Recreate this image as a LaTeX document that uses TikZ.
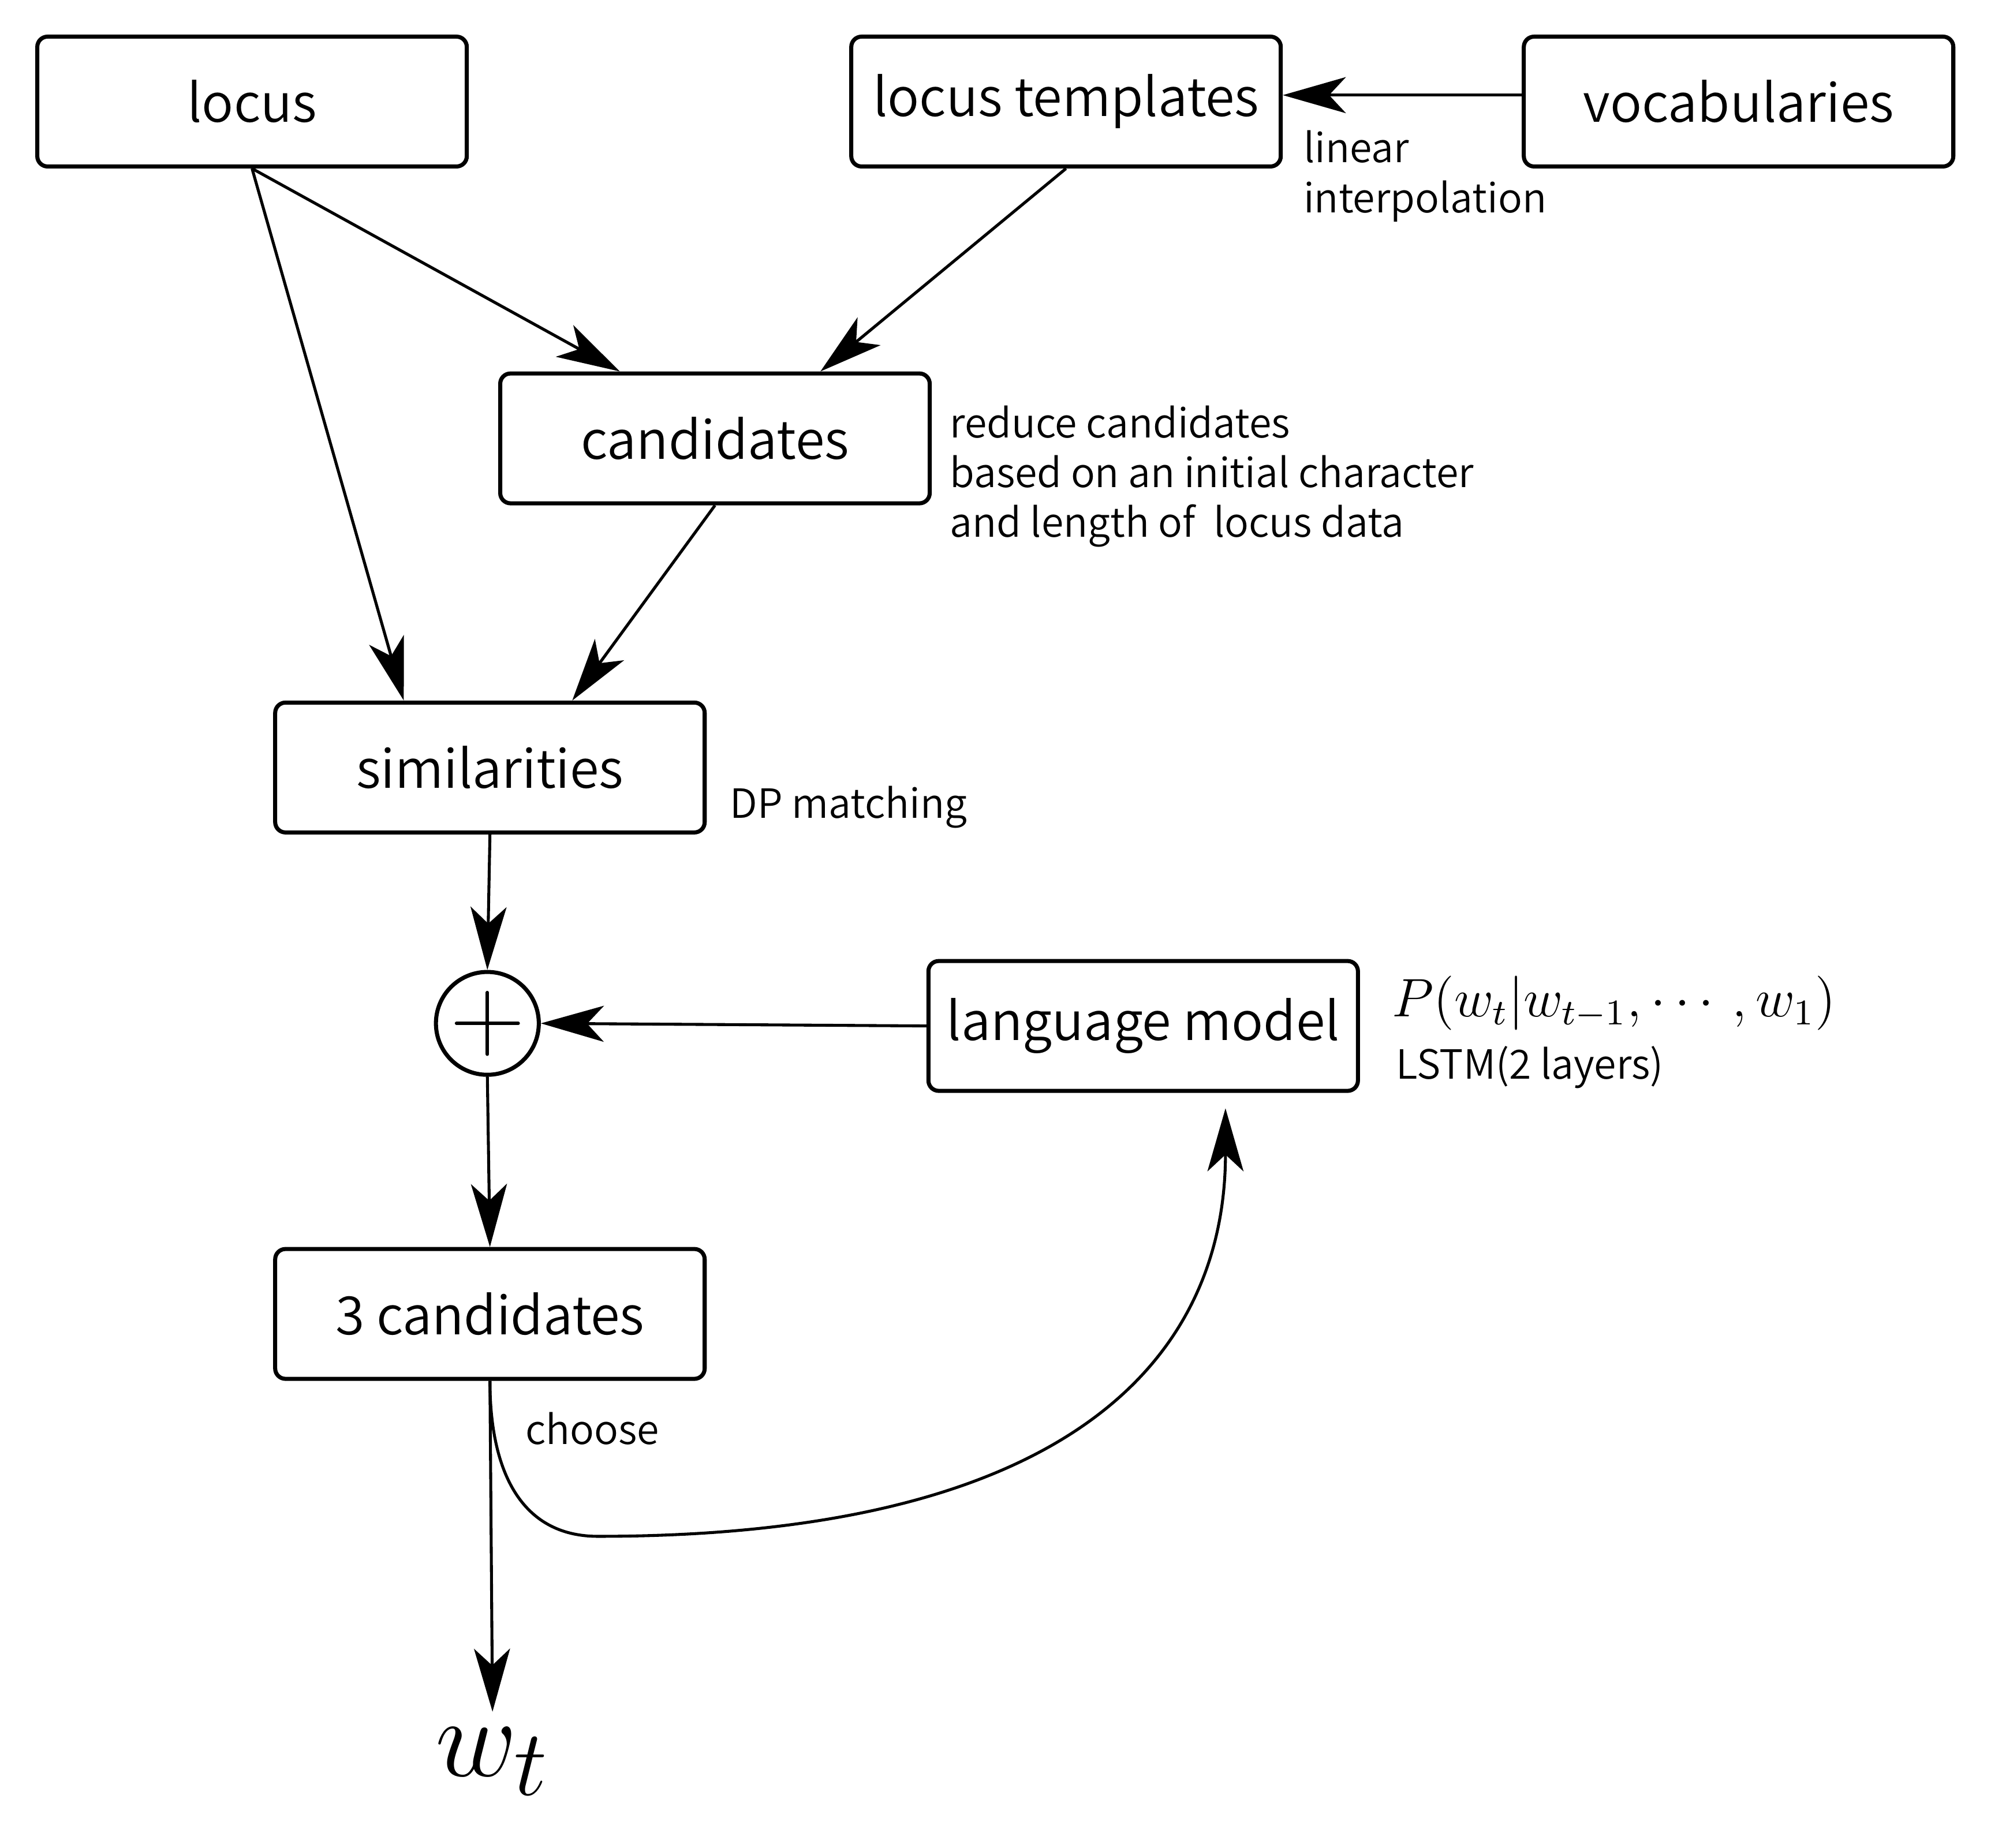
\documentclass[tikz,border=0pt]{standalone}
\usepackage{amsmath,amsfonts}
\usepackage{fontspec}
\newfontfamily\notosans{Noto Sans CJK JP DemiLight}
\usepackage{tikz}
\usetikzlibrary{arrows.meta}

\begin{document}
\begin{tikzpicture}[
    box/.style={draw, line width=0.9pt, rounded corners=0.8mm, minimum width=3.34cm, minimum height=1.01cm, font=\notosans\fontsize{11.7}{14}\selectfont},
    note/.style={inner sep=0pt, align=left, font=\notosans\fontsize{8.9}{11}\selectfont},
    arr/.style={line width=0.65pt, -{Stealth[length=4.9mm, width=2.8mm, inset=1.3mm]}}
]
    \useasboundingbox (0,0) rectangle (15.6,-14.374);
    \node[box] (locus) at (1.96,-0.79) {locus};
    \node[box] (templates) at (8.29,-0.79) {locus templates};
    \node[box] (vocab) at (13.52,-0.79) {vocabularies};
    \node[box] (cands) at (5.56,-3.41) {candidates};
    \node[box] (sims) at (3.81,-5.97) {similarities};
    \node[circle, draw, line width=0.9pt, minimum size=0.8cm, inner sep=0pt] (plus) at (3.79,-7.96) {};
    \draw[line width=0.75pt, line cap=round] ([xshift=-0.24cm]plus.center) -- ([xshift=0.24cm]plus.center);
    \draw[line width=0.75pt, line cap=round] ([yshift=-0.24cm]plus.center) -- ([yshift=0.24cm]plus.center);
    \node[box] (lm) at (8.89,-7.98) {language model};
    \node[box] (three) at (3.81,-10.22) {3 candidates};
    \node[font=\Huge] (wt) at (3.83,-13.70) {$w_t$};
    % notes
    \node[note, anchor=north west] (interp) at (10.13,-1.01) {linear\\interpolation};
    \node[note, anchor=north west] (reduce) at (7.38,-3.15) {reduce candidates\\based on an initial character\\and length of \ locus data};
    \node[note, anchor=west] (dp) at (5.67,-6.28) {DP matching};
    \node[anchor=west, inner sep=0pt, font=\large] (prob) at (10.82,-7.80) {$P(w_t|w_{t-1},\cdots,w_1)$};
    \node[note, anchor=west] (lstm) at (10.85,-8.30) {LSTM(2 layers)};
    \node[note, anchor=west] (choose) at (4.08,-11.11) {choose};
    % connectors
    \draw[arr] ([yshift=0.05cm]vocab.west) -- ([yshift=0.05cm]templates.east);
    \draw[arr] (locus.south) -- ([xshift=-0.74cm]cands.north);
    \draw[arr] (templates.south) -- ([xshift=0.82cm]cands.north);
    \draw[arr] (locus.south) -- ([xshift=-0.67cm]sims.north);
    \draw[arr] (cands.south) -- ([xshift=0.64cm]sims.north);
    \draw[arr] (sims.south) -- (plus.north);
    \draw[arr] (lm.west) -- (plus.east);
    \draw[arr] (plus.south) -- (three.north);
    \draw[arr] (three.south) -- (wt.north);
    \coordinate (back) at ([xshift=0.64cm, yshift=-0.12cm]lm.south);
    \draw[arr] (three.south) .. controls +(0,-0.7) and +(-0.6,0) .. (4.65,-11.95) .. controls +(3.8,0) and +(0,-1.85) .. (back);
\end{tikzpicture}
\end{document}
